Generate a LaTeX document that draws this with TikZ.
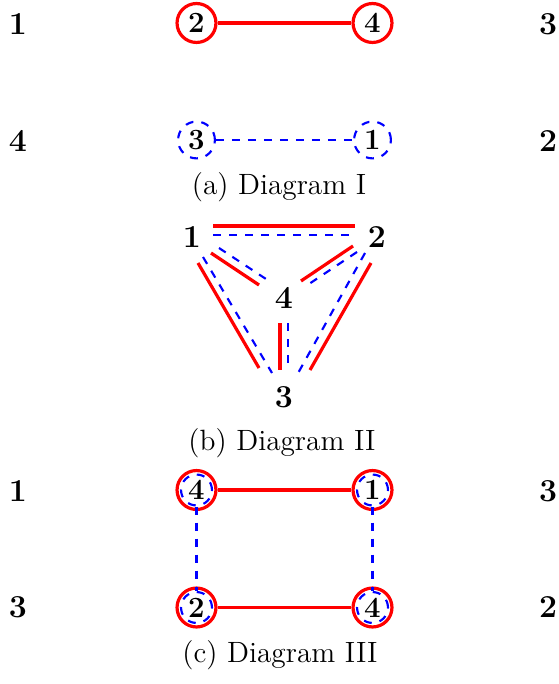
\documentclass[tikz,border=0pt]{standalone}
\usepackage{tikz}
\begin{document}
\begin{tikzpicture}[
x=0.375pt,y=-0.375pt,
lab/.style={font=\fontsize{12}{14}\selectfont\bfseries,inner sep=0pt},
redc/.style={circle,draw=red,very thick,minimum size=14.6pt,inner sep=0pt,font=\fontsize{11}{13}\selectfont\bfseries},
bluec/.style={circle,draw=blue,thick,dashed,minimum size=13.8pt,inner sep=0pt,font=\fontsize{11}{13}\selectfont\bfseries},
bluein/.style={circle,draw=blue,thick,dashed,minimum size=11.6pt,inner sep=0pt},
rline/.style={draw=red,very thick},
bline/.style={draw=blue,thick,dashed},
captext/.style={inner sep=0pt,font=\fontsize{11}{13}\selectfont}
]
\useasboundingbox (0,0) rectangle (559,684);
% Diagram I
\node[lab] (al1) at (18,24) {1};
\node[lab] (al4) at (18,141) {4};
\node[lab] (ar3) at (548,24) {3};
\node[lab] (ar2) at (548,141) {2};
\node[redc] (a2) at (196.5,23) {2};
\node[redc] (a4) at (372.5,23) {4};
\node[bluec] (a3) at (196.5,140) {3};
\node[bluec] (a1) at (372.5,140) {1};
\draw[rline] (a2)--(a4);
\draw[bline] (a3)--(a1);
\node[captext] (capa) at (279,187) {(a) Diagram I};
% Diagram II
\node[lab] (b1) at (192,237) {1};
\node[lab] (b2) at (377,237) {2};
\node[lab] (b4) at (284,298) {4};
\node[lab] (b3) at (284,397) {3};
\draw[rline] ([shift={(21,-11)}]b1.center)--([shift={(-22,-11)}]b2.center);
\draw[bline] ([shift={(21,-2)}]b1.center)--([shift={(-22,-2)}]b2.center);
\draw[rline] ([shift={(19,16)}]b1.center)--([shift={(-25,-13)}]b4.center);
\draw[bline] ([shift={(27,11)}]b1.center)--([shift={(-15,-17)}]b4.center);
\draw[rline] ([shift={(-24,9)}]b2.center)--([shift={(17,-17)}]b4.center);
\draw[bline] ([shift={(-20,15)}]b2.center)--([shift={(25,-14)}]b4.center);
\draw[rline] ([shift={(6,26)}]b1.center)--([shift={(-25,-29)}]b3.center);
\draw[bline] ([shift={(11,20)}]b1.center)--([shift={(-12,-24)}]b3.center);
\draw[rline] ([shift={(-4,25)}]b4.center)--([shift={(-4,-27)}]b3.center);
\draw[bline] ([shift={(4,25)}]b4.center)--([shift={(4,-27)}]b3.center);
\draw[rline] ([shift={(-6,26)}]b2.center)--([shift={(26,-27)}]b3.center);
\draw[bline] ([shift={(-12,16)}]b2.center)--([shift={(13,-22)}]b3.center);
\node[captext] (capb) at (282,443) {(b) Diagram II};
% Diagram III
\node[lab] (cl1) at (18,491) {1};
\node[lab] (cl3) at (18,607) {3};
\node[lab] (cr3) at (548,491) {3};
\node[lab] (cr2) at (548,607) {2};
\node[redc] (c4) at (196.5,490) {4};
\node[redc] (c1) at (372.5,490) {1};
\node[redc] (c2) at (196.5,607.5) {2};
\node[redc] (c4b) at (372.5,607.5) {4};
\node[bluein] (d4) at (c4) {};
\node[bluein] (d1) at (c1) {};
\node[bluein] (d2) at (c2) {};
\node[bluein] (d4b) at (c4b) {};
\draw[rline] (c4)--(c1);
\draw[rline] (c2)--(c4b);
\draw[bline] (d4)--(d2);
\draw[bline] (d1)--(d4b);
\node[captext] (capc) at (280,655) {(c) Diagram III};
\end{tikzpicture}
\end{document}
